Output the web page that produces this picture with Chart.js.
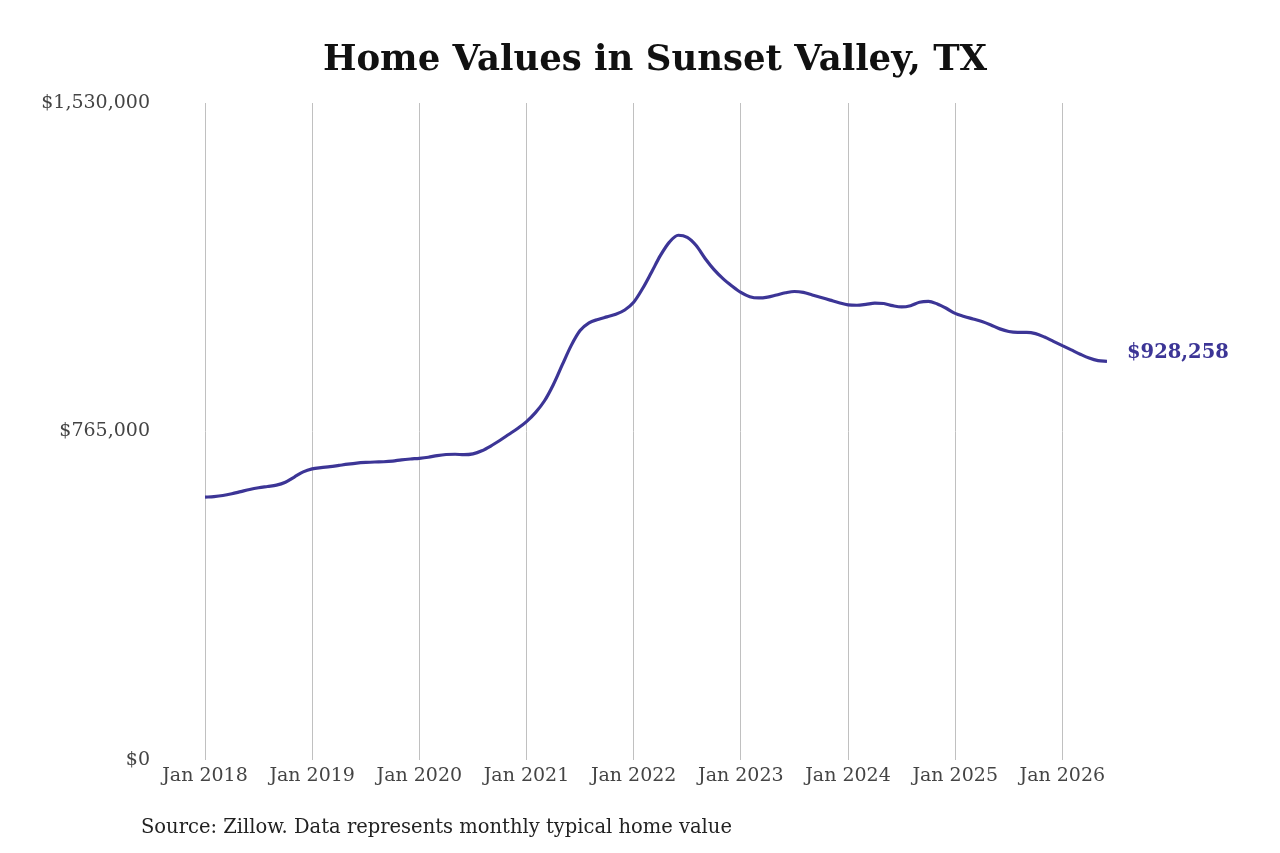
<!DOCTYPE html>
<html>
<head>
<meta charset="utf-8">
<title>Home Values in Sunset Valley, TX</title>
<script src="https://cdn.jsdelivr.net/npm/chart.js@4.4.1/dist/chart.umd.min.js"></script>
<style>
    html, body { margin: 0; padding: 0; background: #fff; }
    #wrap { position: relative; width: 1280px; height: 853px; }
</style>
</head>
<body>
<div id="wrap"><canvas id="chart"></canvas></div>
<script>
// Monthly typical home value, Jan 2018 - Jun 2026
const years = [2018, 2019, 2020, 2021, 2022, 2023, 2024, 2025, 2026];
const monthNames = ['Jan', 'Feb', 'Mar', 'Apr', 'May', 'Jun', 'Jul', 'Aug', 'Sep', 'Oct', 'Nov', 'Dec'];

const homeValues = [
    // 2018
    612000, 613500, 616000, 620000, 625000, 630000, 634000, 637000, 640000, 647000, 659000, 671000,
    // 2019
    678000, 681000, 683000, 686000, 689000, 691500, 693000, 694000, 694500, 696000, 699000, 701000,
    // 2020
    702500, 705000, 709000, 711500, 712000, 711000, 713000, 720000, 731000, 744000, 758000, 772000,
    // 2021
    788000, 809000, 836000, 874000, 920000, 965000, 1000000, 1018000, 1026000, 1032000, 1038000, 1048000,
    // 2022
    1066000, 1098000, 1136000, 1175000, 1206000, 1222000, 1217000, 1198000, 1168000, 1142000, 1121000, 1104000,
    // 2023
    1089000, 1079000, 1076000, 1078000, 1083000, 1088000, 1091000, 1089000, 1083000, 1077000, 1071000, 1065000,
    // 2024
    1060000, 1059000, 1061000, 1064000, 1063000, 1058000, 1055000, 1058000, 1066000, 1068000, 1062000, 1052000,
    // 2025
    1040000, 1033000, 1027000, 1021000, 1013000, 1004000, 998000, 996000, 996000, 993000, 985000, 975000,
    // 2026
    965000, 955000, 945000, 936000, 930000, 928258
];

const yTicks = [0, 765000, 1530000];
const xTickMonths = [0, 12, 24, 36, 48, 60, 72, 84, 96];

const monthLabels = homeValues.map((v, i) => monthNames[i % 12] + ' ' + years[Math.floor(i / 12)]);

const lineColor = '#3c3596';
const serif = '"DejaVu Serif", serif';

const points = homeValues.map((v, i) => ({ x: i, y: v }));

function formatMoney(v) {
    return '$' + Math.round(v).toLocaleString('en-US');
}

// Title, source note and end label
const decorPlugin = {
    id: 'decor',
    afterDraw(chart) {
        const ctx = chart.ctx;
        ctx.save();

        ctx.fillStyle = '#111';
        ctx.font = 'bold 35.5px ' + serif;
        ctx.textAlign = 'center';
        ctx.textBaseline = 'middle';
        ctx.fillText('Home Values in Sunset Valley, TX', 655, 61);

        ctx.font = '19.5px ' + serif;
        ctx.textAlign = 'left';
        ctx.fillStyle = '#222';
        ctx.fillText('Source: Zillow. Data represents monthly typical home value', 141, 828);

        const meta = chart.getDatasetMeta(0);
        const last = meta.data[meta.data.length - 1];
        ctx.font = 'bold 19.5px ' + serif;
        ctx.fillStyle = lineColor;
        ctx.fillText(formatMoney(homeValues[homeValues.length - 1]), last.x + 20, last.y - 8);

        ctx.restore();
    }
};

new Chart(document.getElementById('chart'), {
    type: 'line',
    data: {
        datasets: [{
            data: points,
            borderColor: lineColor,
            borderWidth: 3.2,
            pointRadius: 0,
            cubicInterpolationMode: 'monotone',
            fill: false
        }]
    },
    options: {
        responsive: true,
        maintainAspectRatio: false,
        animation: false,
        layout: { padding: { top: 103, right: 173, bottom: 0, left: 0 } },
        plugins: {
            legend: { display: false },
            tooltip: { enabled: false }
        },
        scales: {
            x: {
                type: 'linear',
                min: 0,
                max: homeValues.length - 1,
                border: { display: false },
                grid: { color: '#c0c0c0', lineWidth: 1, drawTicks: false },
                afterBuildTicks: (scale) => {
                    scale.ticks = xTickMonths.map(v => ({ value: v }));
                },
                afterFit: (scale) => { scale.height = 93; },
                ticks: {
                    autoSkip: false,
                    maxRotation: 0,
                    padding: 5,
                    color: '#444',
                    font: { family: serif, size: 19 },
                    callback: (v) => monthLabels[v]
                }
            },
            y: {
                min: 0,
                max: 1530000,
                border: { display: false },
                grid: { display: false },
                afterBuildTicks: (scale) => {
                    scale.ticks = yTicks.map(v => ({ value: v }));
                },
                afterFit: (scale) => { scale.width = 205; },
                ticks: {
                    padding: 47,
                    color: '#444',
                    font: { family: serif, size: 19 },
                    callback: (v) => formatMoney(v)
                }
            }
        }
    },
    plugins: [decorPlugin]
});
</script>
</body>
</html>
